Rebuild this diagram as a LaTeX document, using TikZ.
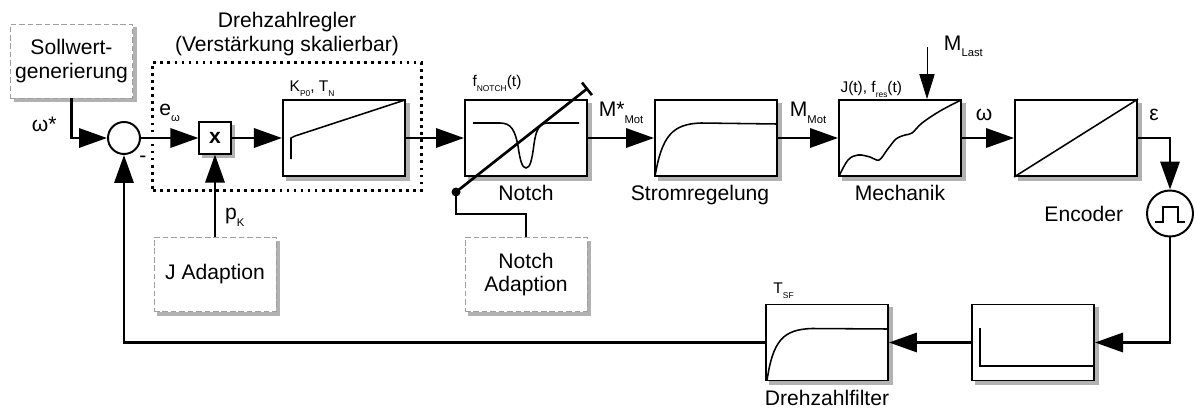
\documentclass[tikz,border=0pt]{standalone}
\usepackage{fontspec}
\setmainfont{Liberation Sans}
\usetikzlibrary{arrows.meta,positioning,backgrounds}
\newcommand{\mainfnt}{\fontsize{15}{17}\selectfont}
\newcommand{\smallfnt}{\fontsize{11}{13}\selectfont}
\newcommand{\lowsub}[2][8]{\raisebox{-0.6ex}{\fontsize{#1}{#1}\selectfont #2}}

\begin{document}
\begin{tikzpicture}[x=0.025cm, y=-0.025cm, every node/.style={font=\mainfnt},
  blk/.style={draw, rectangle, line width=1.4pt, fill=white, minimum width=3.05cm, minimum height=1.9cm},
  extbox/.style={draw=gray!75, dash pattern=on 4pt off 2pt, line width=0.6pt, fill=white, align=center,
    minimum width=3.05cm, minimum height=1.85cm},
  regbox/.style={draw, line width=2.1pt, dash pattern=on 2pt off 3pt, minimum width=6.7cm, minimum height=3.2cm},
  sumnode/.style={draw, circle, line width=1.4pt, fill=white, minimum size=0.8cm, inner sep=0pt},
  multbox/.style={draw, rectangle, line width=1.4pt, fill=white, minimum size=0.78cm, inner sep=0pt},
  boxshadow/.style={fill=gray!60},
  flow/.style={line width=1.9pt, -{Triangle[length=0.7cm, width=0.48cm]}},
  wire/.style={line width=1.9pt},
  respcurve/.style={line width=1.1pt},
  lbl/.style={text height=0.75em, text depth=0.25em},
  smalllbl/.style={font=\smallfnt, inner sep=1pt, anchor=base west}]
\useasboundingbox (0,0) rectangle (1196,414);

% forward path
\node[regbox] (regler) at (287,126.5) {};
\node[above=0pt of regler, align=center] (reglertitle) {Drehzahlregler\\(Verstärkung skalierbar)};
\node[extbox] (soll) at (71.5,61) {Sollwert-\\generierung};
\node[sumnode] (sum) at (124,138) {};
\node (minus) at (143,159) {-};
\node[multbox] (mult) at (215,138) {\textbf{x}};
\node[blk] (kp) at (344,138) {};
\node[blk, right=1.45cm of kp] (notch) {};
\node[blk, right=1.65cm of notch] (strom) {};
\node[blk, right=1.5cm of strom] (mech) {};
\node[blk, right=1.3cm of mech] (conv) {};
\node[sumnode, minimum size=1.15cm] (enc) at (1170,213.5) {};

% adaption blocks
\node[extbox] (jad) at (215,274.5) {J Adaption};
\node[extbox] (nad) at (526,274.5) {Notch\\Adaption};

% feedback path
\node[blk] (hold) at (1033,342.5) {};
\node[blk, left=2.05cm of hold] (filt) {};

% shadows
\begin{scope}[on background layer]
  \foreach \b in {soll,mult,kp,notch,strom,mech,conv,jad,nad,hold,filt}
    \fill[boxshadow] ([shift={(0.09cm,-0.09cm)}]\b.south west) rectangle ([shift={(0.09cm,-0.09cm)}]\b.north east);
\end{scope}

% labels
\node[lbl, below=0.2cm of notch] (notchlbl) {Notch};
\node[lbl, below=0.2cm of strom, xshift=-0.4cm] (stromlbl) {Stromregelung};
\node[lbl, below=0.2cm of mech] (mechlbl) {Mechanik};
\node[lbl, below=0.2cm of filt] (filtlbl) {Drehzahlfilter};
\node[lbl, left=0.45cm of enc, yshift=-0.1cm] (enclbl) {Encoder};
\node[smalllbl] (kplbl) at ([shift={(0.15cm,0.19cm)}]kp.north west) {K\lowsub[6]{P0}, T\lowsub[6]{N}};
\node[smalllbl] (notchpar) at ([shift={(0.17cm,0.31cm)}]notch.north west) {f\lowsub[6]{NOTCH}(t)};
\node[smalllbl] (mechpar) at ([shift={(0.02cm,0.16cm)}]mech.north west) {J(t), f\lowsub[6]{res}(t)};
\node[smalllbl] (filtpar) at ([shift={(0.17cm,0.24cm)}]filt.north west) {T\lowsub[6]{SF}};
\coordinate (mlast) at (927,47);
\node[anchor=base west] (mlastlbl) at (939,50) {M\lowsub{Last}};

% response curves
\draw[respcurve, shift={(kp.center)}] (-53,21) -- (-53,0) -- (-49,-2) -- (61,-38);
\draw[respcurve, shift={(notch.center)}] (-53,-15) -- (-26,-15) .. controls (-15,-15) and (-11,-8) .. (-8,8)
  .. controls (-6,22) and (-4,30) .. (0,30) .. controls (4,30) and (6,22) .. (8,6)
  .. controls (10,-8) and (13,-15) .. (22,-15) -- (53,-15);
\draw[respcurve, shift={(strom.center)}] (-61,38) .. controls (-54,-2) and (-44,-14) .. (-15,-15) -- (61,-14);
\draw[respcurve, shift={(mech.center)}] plot[smooth, tension=0.6] coordinates {(-61,38) (-52,22) (-42,17) (-30,19)
  (-21,22) (-13,12) (-4,1) (5,-3) (12,-5) (22,-15) (40,-27) (61,-38)};
\draw[respcurve] (conv.south west) -- (conv.north east);
\draw[respcurve, shift={(filt.center)}] (-60,38) .. controls (-54,-2) and (-44,-13) .. (-15,-14) -- (61,-13.5);
\draw[respcurve, shift={(hold.center)}] (-53,-14.5) -- (-53,23.5) -- (61,23.5);
\draw[respcurve, shift={(enc.center)}] (-15,8.5) -- (-7,8.5) -- (-7,-6.5) -- (8,-6.5) -- (8,8.5) -- (15,8.5);

% connections
\draw[flow] (soll.south) |- (sum.west) node[pos=0.33, left=0.22cm] {ω*};
\draw[flow] (sum.east) -- (mult.west) node[midway, above=0.25cm] {e\lowsub{ω}};
\draw[flow] (mult.east) -- (kp.west);
\draw[flow] (kp.east) -- (notch.west);
\draw[flow] (notch.east) -- (strom.west) node[midway, above=0.22cm] {M*\lowsub{Mot}};
\draw[flow] (strom.east) -- (mech.west) node[midway, above=0.22cm] {M\lowsub{Mot}};
\draw[flow] (mech.east) -- (conv.west) node[midway, above=0.28cm, xshift=-0.1cm] {ω};
\draw[flow] (conv.east) -| (enc.north) node[pos=0.25, above=0.28cm] {ε};
\draw[flow] (enc.south) |- (hold.east);
\draw[flow] (hold.west) -- (filt.east);
\draw[flow] (filt.west) -| (sum.south);
\draw[flow] (jad.north) -- (mult.south) node[pos=0.24, right=0.1cm] {p\lowsub{K}};
\draw[line width=0.6pt, -{Triangle[length=0.62cm, width=0.38cm]}] (mlast) -- (mlast |- mech.north);

% notch adaption
\coordinate (ndot) at (456,192);
\coordinate (nend) at (588,88);
\draw[wire] (nad.north) -- ++(0,-23) -| (ndot);
\draw[wire, -{Bar[width=0.4cm]}] (ndot) -- (nend);
\fill (ndot) circle[radius=3.2pt];
\end{tikzpicture}
\end{document}
